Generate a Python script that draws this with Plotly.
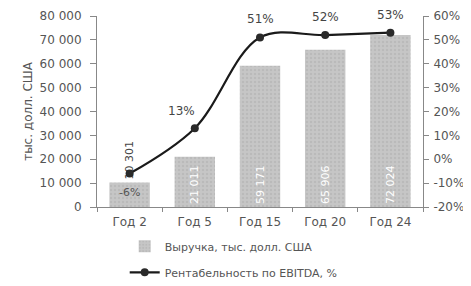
import plotly.graph_objects as go

categories = ["Год 2", "Год 5", "Год 15", "Год 20", "Год 24"]
revenue = [10301, 21011, 59171, 65906, 72024]
ebitda_margin = [-6, 13, 51, 52, 53]
revenue_name = "Выручка, тыс. долл. США"
margin_name = "Рентабельность по EBITDA, %"
left_ticks = [0, 10000, 20000, 30000, 40000, 50000, 60000, 70000, 80000]
right_ticks = [-20, -10, 0, 10, 20, 30, 40, 50, 60]

FONT = "DejaVu Sans"
rev_text = [f"{v:,}".replace(",", " ") for v in revenue]
rev_pos = ["outside" if v < 15000 else "inside" for v in revenue]
left_text = [f"{v:,}".replace(",", " ") for v in left_ticks]
right_text = [f"{v}%" for v in right_ticks]

fig = go.Figure()
fig.add_trace(go.Bar(
    x=categories, y=revenue, name=revenue_name,
    marker=dict(color="#c6c6c6", line=dict(width=0),
                pattern=dict(shape=".", fgcolor="#adadad", size=4, solidity=0.3)),
    text=rev_text, textposition=rev_pos, textangle=-90,
    insidetextanchor="start",
    insidetextfont=dict(color="white", size=11, family=FONT),
    outsidetextfont=dict(color="#444", size=11, family=FONT),
    cliponaxis=False, legendgroup="a",
))
fig.add_trace(go.Scatter(
    x=categories, y=ebitda_margin, name=margin_name, yaxis="y2",
    mode="lines+markers",
    line=dict(color="#1a1a1a", width=2.2, shape="spline", smoothing=1),
    marker=dict(color="#2a2a2a", size=8),
    cliponaxis=False, legendgroup="b",
))

for c, m in zip(categories, ebitda_margin):
    if m < 0:
        fig.add_annotation(x=c, y=m, yref="y2", text=f"{m}%", showarrow=False,
                           yshift=-19, font=dict(size=11, color="#555", family=FONT))
    elif m < 30:
        fig.add_annotation(x=c, y=m, yref="y2", text=f"{m}%", showarrow=False,
                           yshift=17, xshift=-13, font=dict(size=12, color="#444", family=FONT))
    else:
        fig.add_annotation(x=c, y=m, yref="y2", text=f"{m}%", showarrow=False,
                           yshift=18, font=dict(size=12, color="#444", family=FONT))

# page body has an 8px default margin: figure is offset by (8, 8) in the window
fig.update_layout(
    width=463, height=278,
    margin=dict(l=89, r=48, t=8, b=79, autoexpand=False),
    plot_bgcolor="white", paper_bgcolor="white",
    font=dict(family=FONT, size=12, color="#555"),
    bargap=0.38,
    xaxis=dict(showline=True, linecolor="#888", ticks="outside", tickson="boundaries",
               ticklen=4, tickcolor="#888", automargin=False, ticklabelstandoff=4,
               tickfont=dict(size=12, color="#555")),
    yaxis=dict(range=[0, 80000], tickvals=left_ticks, ticktext=left_text,
               showline=True, linecolor="#888", ticks="outside", ticklen=6, tickcolor="#888",
               showgrid=False, zeroline=False, automargin=False, ticklabelstandoff=6,
               title=dict(text="тыс. долл. США", font=dict(size=12, color="#555"), standoff=4),
               tickfont=dict(size=12, color="#555")),
    yaxis2=dict(range=[-20, 60], tickvals=right_ticks, ticktext=right_text, overlaying="y",
                side="right", showline=True, linecolor="#888", ticks="outside", ticklen=5,
                tickcolor="#888", showgrid=False, zeroline=False, automargin=False,
                ticklabelstandoff=2,
                tickfont=dict(size=12, color="#555")),
    legend=dict(orientation="v", x=0.085, xanchor="left", y=-0.13, yanchor="top",
                traceorder="grouped", tracegroupgap=7,
                font=dict(size=11, color="#555", family=FONT), bgcolor="rgba(0,0,0,0)"),
    showlegend=True,
)

fig.write_html("out.html")
